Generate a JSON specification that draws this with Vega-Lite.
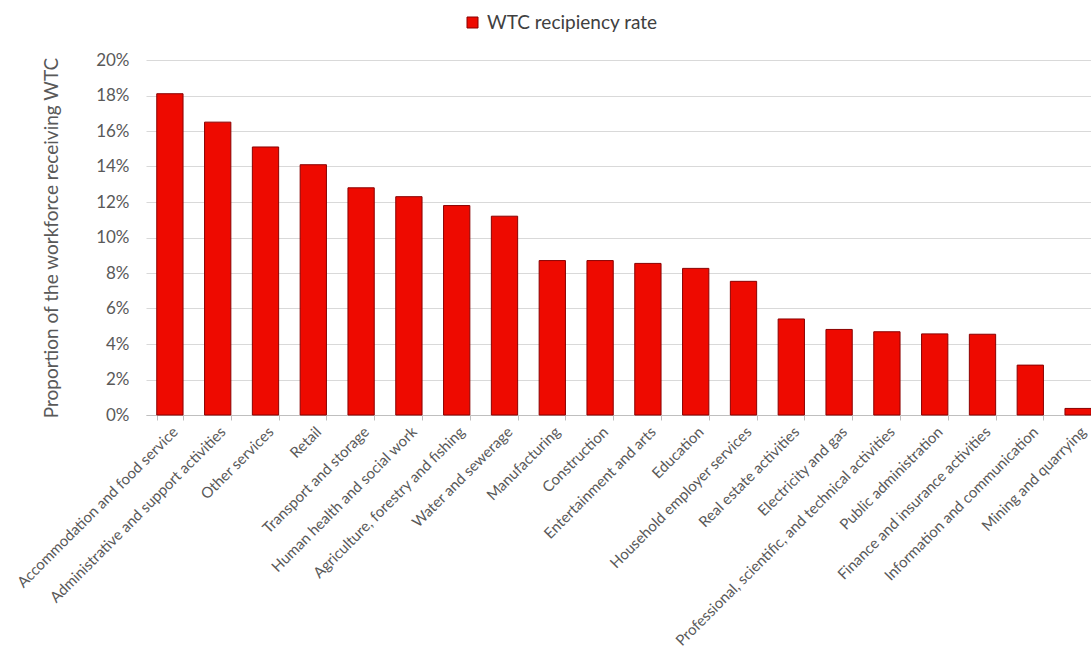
{
  "$schema": "https://vega.github.io/schema/vega-lite/v6.json",
  "width": 945,
  "height": 355,
  "autosize": "none",
  "padding": {"left": 146, "top": 60, "right": 0, "bottom": 237},
  "background": "white",
  "config": {
    "font": "Lato",
    "view": {"stroke": null},
    "axis": {"labelColor": "#595959", "titleColor": "#595959", "titleFontWeight": "normal"}
  },
  "data": {
    "values": [
      {"industry": "Accommodation and food service", "rate": 0.181},
      {"industry": "Administrative and support activities", "rate": 0.165},
      {"industry": "Other services", "rate": 0.151},
      {"industry": "Retail", "rate": 0.141},
      {"industry": "Transport and storage", "rate": 0.128},
      {"industry": "Human health and social work", "rate": 0.123},
      {"industry": "Agriculture, forestry and fishing", "rate": 0.118},
      {"industry": "Water and sewerage", "rate": 0.112},
      {"industry": "Manufacturing", "rate": 0.087},
      {"industry": "Construction", "rate": 0.087},
      {"industry": "Entertainment and arts", "rate": 0.0854},
      {"industry": "Education", "rate": 0.0826},
      {"industry": "Household employer services", "rate": 0.0753},
      {"industry": "Real estate activities", "rate": 0.0541},
      {"industry": "Electricity and gas", "rate": 0.0482},
      {"industry": "Professional, scientific, and technical activities", "rate": 0.0469},
      {"industry": "Public administration", "rate": 0.0457},
      {"industry": "Finance and insurance activities", "rate": 0.0455},
      {"industry": "Information and communication", "rate": 0.0281},
      {"industry": "Mining and quarrying", "rate": 0.0037}
    ]
  },
  "mark": {"type": "bar", "stroke": "#8a0000", "strokeWidth": 1},
  "encoding": {
    "x": {
      "field": "industry",
      "type": "nominal",
      "sort": null,
      "title": null,
      "scale": {"range": [0, 956], "paddingInner": 0.45, "paddingOuter": 0.225},
      "axis": {
        "labelAngle": -45,
        "labelPadding": 4,
        "labelFontSize": 15,
        "domainColor": "#bfbfbf",
        "tickColor": "#bfbfbf",
        "tickBand": "extent",
        "tickSize": 5,
        "labelLimit": 400
      }
    },
    "y": {
      "field": "rate",
      "type": "quantitative",
      "title": "Proportion of the workforce receiving WTC",
      "scale": {"domain": [0, 0.2]},
      "axis": {
        "format": ".0%",
        "values": [0, 0.02, 0.04, 0.06, 0.08, 0.1, 0.12, 0.14, 0.16, 0.18, 0.2],
        "labelOverlap": false,
        "labelFontSize": 17,
        "titleFontSize": 19,
        "domain": false,
        "ticks": false,
        "gridColor": "#d9d9d9",
        "labelPadding": 17,
        "titlePadding": 34
      }
    },
    "color": {
      "datum": "WTC recipiency rate",
      "type": "nominal",
      "scale": {"range": ["#ee0a00"]},
      "legend": {
        "title": null,
        "orient": "none",
        "legendX": 317,
        "legendY": -47,
        "symbolType": "square",
        "symbolSize": 121,
        "symbolStrokeColor": "#8a0000",
        "symbolStrokeWidth": 1,
        "labelFontSize": 19,
        "labelLimit": 400,
        "labelColor": "#404040",
        "labelOffset": 5
      }
    }
  }
}
